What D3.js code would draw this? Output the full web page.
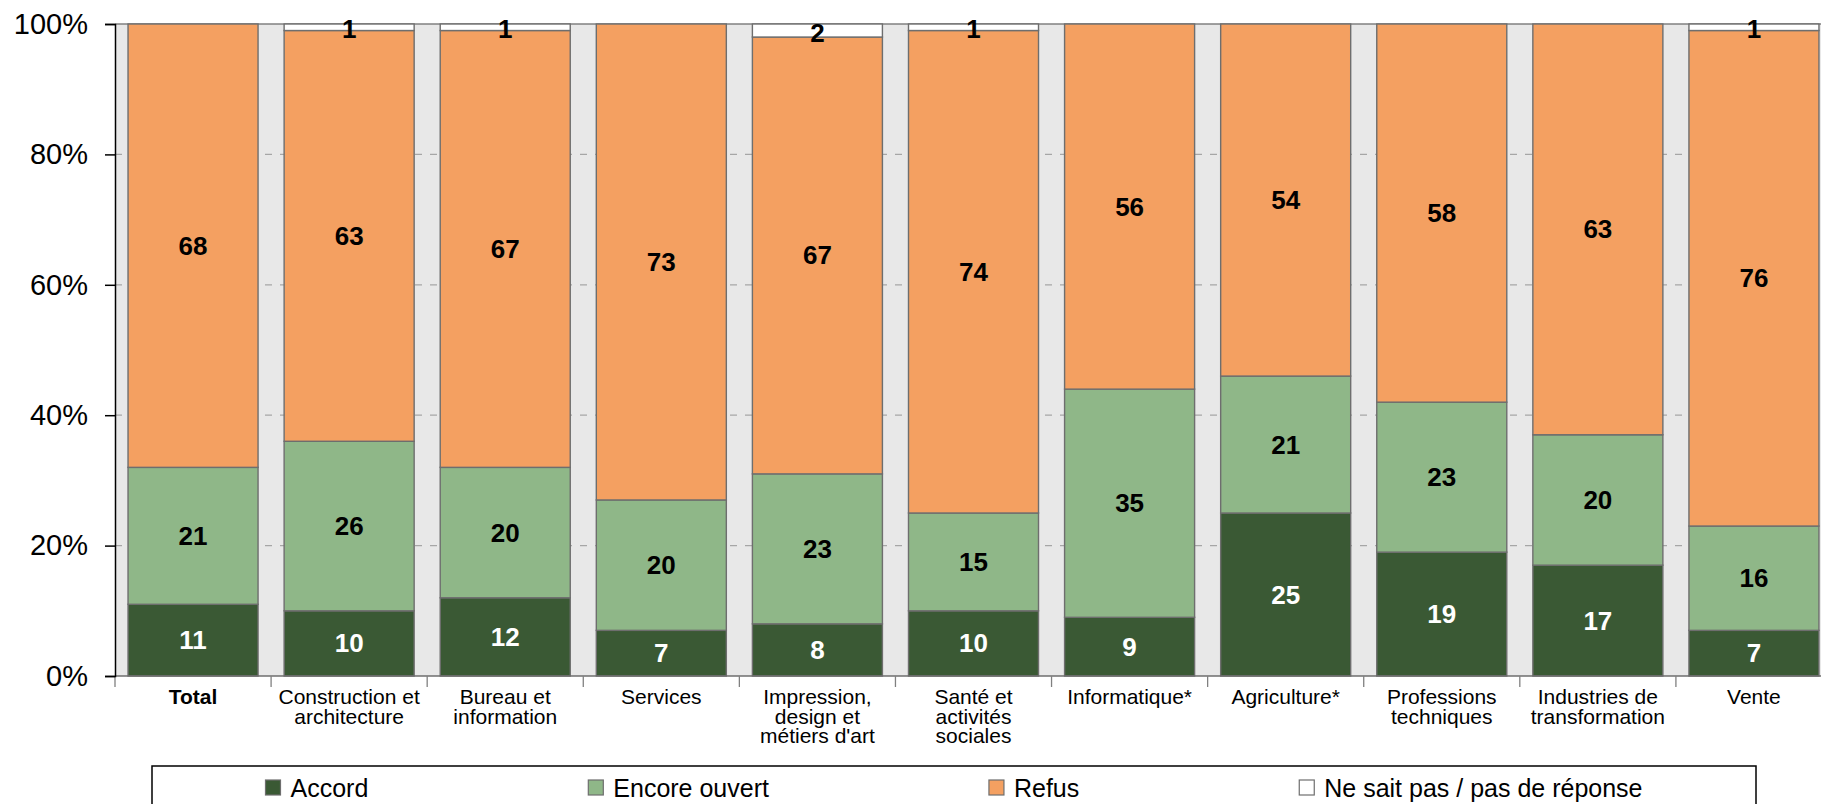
<!DOCTYPE html>
<html>
<head>
<meta charset="utf-8">
<script src="https://cdn.jsdelivr.net/npm/d3@7"></script>
<style>
body { margin: 0; background: #fff; }
text { font-family: "Liberation Sans", Arial, sans-serif; }
</style>
</head>
<body>
<svg id="chart" width="1821" height="804"></svg>
<script>
// categories (line breaks as in the original)
var categories = ["Total", "Construction et\narchitecture", "Bureau et\ninformation", "Services",
	"Impression,\ndesign et\nmétiers d'art", "Santé et\nactivités\nsociales", "Informatique*",
	"Agriculture*", "Professions\ntechniques", "Industries de\ntransformation", "Vente"];

var seriesNames = ["Accord", "Encore ouvert", "Refus", "Ne sait pas / pas de réponse"];
var accord       = [11, 10, 12,  7,  8, 10,  9, 25, 19, 17,  7];
var encoreOuvert = [21, 26, 20, 20, 23, 15, 35, 21, 23, 20, 16];
var refus        = [68, 63, 67, 73, 67, 74, 56, 54, 58, 63, 76];
var neSaitPas    = [ 0,  1,  1,  0,  2,  1,  0,  0,  0,  0,  1];
var yTicks = [0, 20, 40, 60, 80, 100];

var seriesColors = ["#3a5934", "#8fb788", "#f4a061", "#ffffff"];
var labelColors  = ["#ffffff", "#000000", "#000000", "#000000"];

var svg = d3.select("#chart");
var plotLeft = 115, plotRight = 1832, plotTop = 24, plotBottom = 676;

var rows = categories.map(function(c, i){
	return {cat: c, s0: accord[i], s1: encoreOuvert[i], s2: refus[i], s3: neSaitPas[i]};
});
var stacked = d3.stack().keys(["s0", "s1", "s2", "s3"])(rows);

var x = d3.scaleBand()
	.domain(categories)
	.range([plotLeft, plotRight])
	.paddingInner(0.167)
	.paddingOuter(0.0835);
var y = d3.scaleLinear().domain([0, 100]).range([plotBottom, plotTop]);

//plot background
svg.append("rect")
	.attr("x", plotLeft).attr("y", plotTop)
	.attr("width", plotRight - plotLeft).attr("height", plotBottom - plotTop)
	.style("fill", "#e8e8e8");

//dashed gridlines
svg.append("g").selectAll("line")
	.data(yTicks.filter(function(t){ return t > 0 && t < 100; }))
.enter().append("line")
	.attr("x1", plotLeft).attr("x2", plotRight)
	.attr("y1", function(d){ return y(d); })
	.attr("y2", function(d){ return y(d); })
	.style("stroke", "#a6a6a6")
	.style("stroke-width", 1.3)
	.style("stroke-dasharray", "7,8");

svg.append("line")
	.attr("x1", plotLeft).attr("x2", plotRight)
	.attr("y1", y(100)).attr("y2", y(100))
	.style("stroke", "#808080")
	.style("stroke-width", 1.5);

//bars
var layers = svg.append("g").selectAll("g.layer")
	.data(stacked)
.enter().append("g")
	.attr("class", "layer")
	.style("fill", function(d, i){ return seriesColors[i]; });

layers.selectAll("rect")
	.data(function(d){ return d.filter(function(s){ return s[1] - s[0] > 0; }); })
.enter().append("rect")
	.attr("x", function(d){ return x(d.data.cat); })
	.attr("width", x.bandwidth())
	.attr("y", function(d){ return y(d[1]); })
	.attr("height", function(d){ return y(d[0]) - y(d[1]); })
	.style("stroke", "#6e6e6e")
	.style("stroke-width", 1.4);

//value labels
stacked.forEach(function(layer, k){
	svg.append("g").selectAll("text")
		.data(layer.filter(function(d){ return d[1] - d[0] > 0; }))
	.enter().append("text")
		.attr("x", function(d){ return x(d.data.cat) + x.bandwidth() / 2; })
		.attr("y", function(d){ return y((d[0] + d[1]) / 2) + (k == 3 ? 2 : 0); })
		.attr("text-anchor", "middle")
		.attr("dominant-baseline", "central")
		.style("font-size", "26px")
		.style("font-weight", "bold")
		.style("fill", labelColors[k])
		.text(function(d){ return d[1] - d[0]; });
});

//x axis
svg.append("line")
	.attr("x1", plotLeft).attr("x2", plotRight)
	.attr("y1", plotBottom).attr("y2", plotBottom)
	.style("stroke", "#6e6e6e")
	.style("stroke-width", 1.5);

svg.append("g").selectAll("line")
	.data(d3.range(categories.length + 1))
.enter().append("line")
	.attr("x1", function(i){ return plotLeft + i * x.step(); })
	.attr("x2", function(i){ return plotLeft + i * x.step(); })
	.attr("y1", plotBottom).attr("y2", plotBottom + 11)
	.style("stroke", "#808080")
	.style("stroke-width", 1.3);

var catLabels = svg.append("g").selectAll("text")
	.data(categories)
.enter().append("text")
	.attr("text-anchor", "middle")
	.style("font-size", "21px")
	.style("font-weight", function(d, i){ return i == 0 ? "bold" : "normal"; })
	.style("fill", "#000");
catLabels.each(function(d){
	var t = d3.select(this);
	d.split("\n").forEach(function(line, j){
		t.append("tspan")
			.attr("x", x(d) + x.bandwidth() / 2)
			.attr("y", 704 + j * 19.7)
			.text(line);
	});
});

//y axis
var yAxis = svg.append("g")
	.attr("transform", "translate(" + plotLeft + ",0)")
	.call(d3.axisLeft(y).tickValues(yTicks).tickSize(10).tickPadding(17)
		.tickFormat(function(d){ return d + "%"; }));
yAxis.select(".domain").style("stroke", "#000").style("stroke-width", 1.5);
yAxis.selectAll(".tick line").style("stroke", "#000").style("stroke-width", 1.5);
yAxis.selectAll(".tick text")
	.style("font-family", "'Liberation Sans', Arial, sans-serif")
	.style("font-size", "29px")
	.style("fill", "#000");

//legend
var legendBox = {x: 152, y: 766, w: 1604, h: 60};
svg.append("rect")
	.attr("x", legendBox.x).attr("y", legendBox.y)
	.attr("width", legendBox.w).attr("height", legendBox.h)
	.style("fill", "#fff")
	.style("stroke", "#000")
	.style("stroke-width", 1.5);

var legend = svg.append("g");
var items = legend.selectAll("g")
	.data(seriesNames)
.enter().append("g");
items.append("rect")
	.attr("width", 15).attr("height", 15)
	.attr("y", 780)
	.style("fill", function(d, i){ return seriesColors[i]; })
	.style("stroke", "#6e6e6e")
	.style("stroke-width", 1.2);
items.append("text")
	.attr("x", 25)
	.attr("y", 788)
	.attr("dominant-baseline", "central")
	.style("font-size", "25px")
	.style("fill", "#000")
	.text(function(d){ return d; });

var widths = [];
items.each(function(){ widths.push(25 + d3.select(this).select("text").node().getComputedTextLength()); });
var gap = 220;
var total = d3.sum(widths) + gap * (widths.length - 1);
var cursor = legendBox.x + legendBox.w / 2 - total / 2;
items.each(function(d, i){
	d3.select(this).attr("transform", "translate(" + cursor + ",0)");
	cursor += widths[i] + gap;
});
</script>
</body>
</html>
